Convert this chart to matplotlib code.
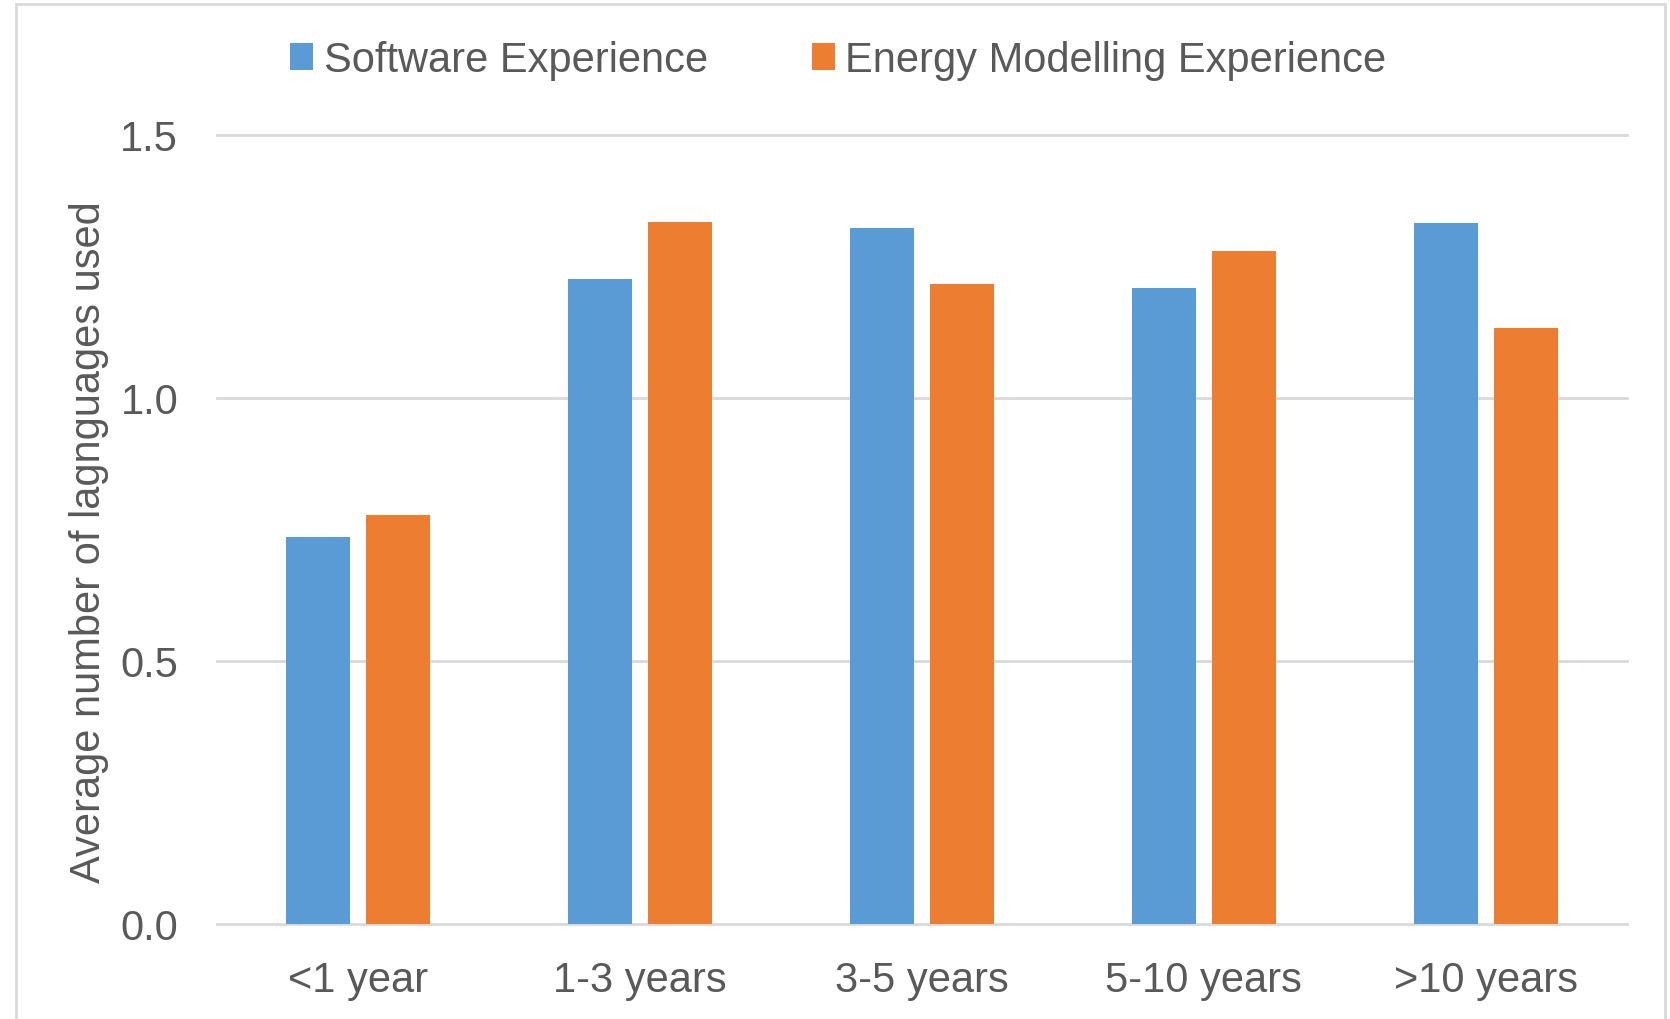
import numpy as np
from matplotlib import pyplot as plt
from matplotlib.patches import Rectangle

plt.rcParams["font.family"] = ["Liberation Sans", "DejaVu Sans"]

categories = ["<1 year", "1-3 years", "3-5 years", "5-10 years", ">10 years"]
software_exp = [0.735, 1.226, 1.323, 1.209, 1.332]
energy_exp = [0.777, 1.334, 1.216, 1.280, 1.132]
series_names = ["Software Experience", "Energy Modelling Experience"]
y_ticks = [0.0, 0.5, 1.0, 1.5]

BLUE = "#5B9BD5"
ORANGE = "#ED7D31"
TEXT = "#595959"
GRID = "#D9D9D9"

fig = plt.figure(figsize=(16.7, 10.2), dpi=100)
ax = fig.add_axes([0.130, 0.0936, 0.844, 0.7731])

x = np.arange(len(categories))
width = 0.227
offset = 0.142
ax.bar(x - offset, software_exp, width, color=BLUE, label=series_names[0], zorder=3)
ax.bar(x + offset, energy_exp, width, color=ORANGE, label=series_names[1], zorder=3)

ax.set_xlim(-0.5, len(categories) - 0.5)
ax.set_ylim(0, 1.5)
ax.set_yticks(y_ticks)
ax.set_yticklabels([f"{v:.1f}" for v in y_ticks])
ax.set_xticks(x)
ax.set_xticklabels(categories)

# gridlines (the 0.0 line doubles as the axis line)
for v in y_ticks:
    ax.axhline(v, color=GRID, lw=2, zorder=1, clip_on=False)

for s in ax.spines.values():
    s.set_visible(False)
ax.tick_params(axis="both", length=0, labelsize=30, colors=TEXT)
ax.tick_params(axis="y", pad=28)
ax.tick_params(axis="x", pad=26)

ax.set_ylabel("Average number of lagnguages used", fontsize=30, color=TEXT)
ax.yaxis.set_label_coords(-0.077, 0.485)

fig.legend(loc="center", bbox_to_anchor=(0.502, 0.940), ncol=2, frameon=False,
           fontsize=30, labelcolor=TEXT, handlelength=0.55, handleheight=0.6,
           handletextpad=0.25, columnspacing=2.5)

# light outer frame of the chart area
fig.patches.append(Rectangle((16 / 1670, -0.1), (1665 - 16) / 1670, 1.1 - 5 / 1020,
                             transform=fig.transFigure, fill=False,
                             edgecolor=GRID, lw=2))

fig.savefig("out.png", dpi=100)
